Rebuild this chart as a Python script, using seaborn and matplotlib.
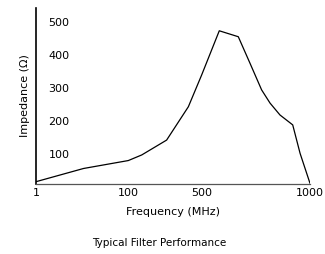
import numpy as np
import matplotlib
matplotlib.use("Agg")
import matplotlib.pyplot as plt
import seaborn as sns

# data
freq = [1, 52, 100, 173, 308, 426, 498, 580, 668, 722, 776, 815, 861, 920, 954, 1000]
impedance = [17, 57, 81, 98, 143, 244, 340, 474, 456, 376, 295, 255, 219, 189, 103, 12]
x_ticks = [1, 100, 500, 1000]
y_ticks = [100, 200, 300, 400, 500]

# the printed axis is not a true log axis: tick positions
tick_pos = [0, 92.3, 166, 274]

def fwd(v):
    return np.interp(v, x_ticks, tick_pos)

def inv(p):
    return np.interp(p, tick_pos, x_ticks)

sns.set_style("white")
plt.rcParams['font.family'] = ['DejaVu Sans']
plt.rcParams['text.color'] = 'black'
plt.rcParams['axes.labelcolor'] = 'black'

fig = plt.figure(figsize=(3.25, 2.54), dpi=100)
ax = fig.add_axes([36/325, 1 - 184/254, 274/325, 176/254])

sns.lineplot(x=freq, y=impedance, ax=ax, color='black', linewidth=0.9, sort=False)

ax.set_xscale('function', functions=(fwd, inv))
ax.set_xlim(1, 1000)
ax.set_ylim(10, 543)
ax.set_xticks(x_ticks)
ax.set_xticklabels([str(t) for t in x_ticks])
ax.set_yticks(y_ticks)
ax.set_yticklabels([str(t) for t in y_ticks], ha='left')
ax.minorticks_off()

ax.tick_params(axis='y', direction='in', length=4, width=0.8, pad=-9, labelsize=8,
               color='black', labelcolor='black')
ax.tick_params(axis='x', direction='in', length=3, width=0.8, pad=3, labelsize=8,
               color='black', labelcolor='black')

for s in ['top', 'right']:
    ax.spines[s].set_visible(False)
ax.spines['left'].set_color('black')
ax.spines['left'].set_linewidth(1.2)
ax.spines['bottom'].set_color('#555555')
ax.spines['bottom'].set_linewidth(0.9)

ax.set_xlabel('Frequency (MHz)', fontsize=8, labelpad=6)
ax.set_ylabel('Impedance (Ω)', fontsize=8, labelpad=4)

fig.text(0.49, 0.043, 'Typical Filter Performance', fontsize=7.5, ha='center', va='center')

fig.savefig('out.png', dpi=100)
